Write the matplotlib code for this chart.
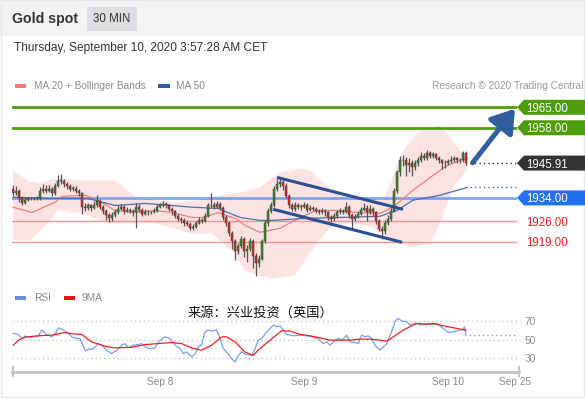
import numpy as np
import matplotlib
matplotlib.use("Agg")
import matplotlib.pyplot as plt
from matplotlib.patches import Polygon, Rectangle
from matplotlib.lines import Line2D
from matplotlib.transforms import blended_transform_factory

plt.rcParams['font.family'] = ['Liberation Sans', 'Noto Sans CJK SC', 'DejaVu Sans']

W, H = 585, 399

# ---------------- data ----------------
first_open = 1937.0
close = [1935.8,1936.5,1933.8,1932.4,1933.4,1933.8,1933.8,1933.8,1934.1,1936.5,
         1937.2,1936.5,1937.2,1935.5,1938.2,1939.9,1939.9,1938.6,1937.9,1937.2,
         1937.2,1936.5,1935.5,1931.0,1930.7,1931.4,1930.7,1931.7,1933.1,1931.0,
         1929.6,1928.3,1927.2,1928.3,1929.0,1930.3,1931.0,1929.6,1930.0,1929.6,
         1929.0,1931.0,1930.0,1928.6,1929.3,1929.0,1929.0,1929.6,1931.0,1931.4,
         1932.0,1931.4,1930.3,1929.6,1927.9,1926.9,1926.5,1925.5,1925.2,1923.8,
         1924.1,1925.5,1926.5,1926.2,1927.9,1931.4,1931.7,1931.0,1932.0,1930.7,
         1927.6,1925.5,1922.1,1919.3,1915.9,1917.6,1920.0,1915.9,1916.6,1919.3,
         1914.2,1911.8,1913.2,1919.3,1925.5,1929.6,1931.4,1937.2,1938.6,1939.3,
         1938.2,1934.8,1931.4,1930.3,1931.7,1931.0,1931.0,1931.7,1930.0,1930.7,
         1930.3,1929.6,1929.3,1929.6,1929.0,1927.6,1926.9,1927.9,1929.0,1929.6,
         1929.3,1931.0,1928.3,1926.9,1927.6,1928.6,1930.0,1930.7,1929.0,1930.3,
         1929.0,1926.2,1923.5,1922.8,1925.5,1926.9,1929.6,1936.5,1942.7,1946.8,
         1947.1,1945.1,1946.1,1944.4,1945.8,1946.8,1948.5,1947.8,1949.2,1948.5,
         1948.9,1947.8,1946.8,1946.1,1945.8,1946.5,1946.8,1947.5,1946.8,1946.8,
         1949.2,1945.91]
high = [1938.5,1938.0,1937.0,1934.5,1934.2,1934.3,1934.2,1934.2,1934.6,1937.8,
        1938.8,1938.5,1938.4,1937.8,1939.2,1942.0,1942.3,1940.5,1939.5,1938.6,
        1938.2,1937.9,1937.0,1936.0,1932.3,1932.4,1932.0,1932.8,1934.9,1933.5,
        1931.6,1930.3,1928.8,1929.0,1930.3,1931.4,1932.0,1931.5,1931.0,1930.6,
        1930.2,1932.2,1931.8,1930.5,1930.1,1929.8,1929.6,1930.4,1932.0,1932.4,
        1933.0,1932.6,1931.9,1930.8,1930.0,1928.5,1927.6,1927.0,1926.3,1925.8,
        1925.0,1926.2,1927.3,1927.2,1928.8,1932.4,1935.6,1932.6,1933.0,1932.7,
        1931.3,1928.2,1926.0,1922.8,1919.8,1918.6,1920.8,1920.5,1918.0,1920.2,
        1919.9,1915.0,1914.6,1920.0,1926.4,1930.4,1932.5,1938.0,1940.6,1940.8,
        1940.2,1939.0,1935.4,1932.4,1932.7,1932.3,1931.8,1932.6,1932.2,1931.6,
        1931.3,1930.8,1930.3,1930.4,1930.2,1929.6,1928.3,1928.8,1930.0,1930.5,
        1930.2,1932.6,1931.5,1928.8,1928.5,1929.4,1931.0,1932.3,1931.6,1931.4,
        1930.9,1929.5,1926.7,1924.3,1926.3,1928.0,1930.4,1937.3,1943.6,1948.2,
        1948.6,1948.0,1947.5,1946.8,1946.8,1948.0,1949.6,1949.4,1950.4,1950.2,
        1949.8,1949.5,1948.4,1947.4,1946.9,1947.4,1948.4,1948.3,1948.0,1947.8,
        1950.0,1949.9]
low = [1934.5,1935.0,1932.5,1931.5,1931.8,1933.0,1933.4,1933.4,1933.4,1933.2,
       1935.8,1935.6,1935.9,1934.6,1935.0,1937.6,1938.8,1937.8,1937.0,1936.5,
       1936.3,1935.8,1934.6,1928.4,1929.5,1930.0,1929.6,1930.1,1931.0,1930.2,
       1928.6,1926.4,1925.6,1926.0,1927.6,1928.5,1929.7,1928.6,1929.0,1928.7,
       1927.8,1923.6,1929.2,1927.9,1928.2,1928.3,1928.4,1928.7,1929.2,1930.4,
       1930.9,1930.6,1929.6,1928.2,1927.0,1926.0,1925.5,1924.5,1924.3,1922.9,
       1923.0,1923.6,1925.0,1925.4,1925.8,1927.5,1930.6,1930.2,1930.4,1929.8,
       1926.6,1924.4,1920.8,1916.6,1912.6,1914.8,1916.8,1913.6,1912.0,1915.8,
       1910.0,1907.3,1910.4,1912.6,1918.4,1924.5,1928.8,1930.8,1936.5,1937.6,
       1936.8,1933.8,1930.4,1929.4,1929.6,1930.2,1930.0,1930.4,1929.3,1929.4,
       1929.5,1928.8,1928.4,1928.6,1927.8,1926.6,1925.6,1926.2,1927.2,1928.5,
       1928.4,1928.8,1927.2,1923.8,1926.0,1927.0,1928.0,1929.4,1926.0,1928.4,
       1927.8,1925.0,1922.6,1919.8,1921.8,1924.8,1926.2,1929.0,1935.6,1941.6,
       1945.0,1941.4,1943.0,1941.6,1943.6,1945.0,1946.2,1946.8,1947.0,1947.8,
       1947.5,1947.0,1945.8,1944.0,1944.2,1945.2,1945.8,1946.2,1946.0,1945.9,
       1946.2,1945.2]

# Bollinger bands / moving averages read at key candles
bb_up_x = [0, 5, 8.3, 11.7, 16.3, 23, 34, 38.3, 41.7, 47.3, 55, 61.7, 69.7, 75.7,
           82.3, 89, 95.7, 99, 102.3, 105.7, 112.3, 118, 122.3, 124.0, 126.7, 129,
           132.3, 137.3, 142.3, 145.7, 149, 151.5]
bb_up_y = [1943.4, 1940.0, 1939.0, 1940.0, 1940.7, 1940.0, 1940.0, 1936.6, 1933.8,
           1933.2, 1932.5, 1933.2, 1934.9, 1935.9, 1937.6, 1942.7, 1944.1, 1943.4,
           1940.0, 1937.3, 1934.9, 1933.8, 1933.2, 1934.5, 1941.5, 1948.0, 1953.7,
           1957.8, 1958.8, 1954.7, 1950.3, 1947.2]
bb_lo_x = [0, 5.7, 11.7, 15, 23, 30.7, 36.3, 47.3, 59.7, 66.3, 73, 77.3, 81.3,
           86.7, 94, 98, 101.3, 105.7, 112.3, 120, 125.7, 133.3, 139, 142.3, 146.7,
           151.5]
bb_lo_y = [1919.5, 1919.5, 1925.3, 1929.7, 1928.7, 1925.6, 1925.3, 1925.3, 1921.8,
           1921.8, 1916.0, 1909.2, 1907.5, 1906.4, 1907.5, 1913.6, 1918.4, 1923.9,
           1925.6, 1923.9, 1919.5, 1917.1, 1918.4, 1925.3, 1937.6, 1943.8]
ma20_x = [0, 6.3, 14, 16.3, 24, 28.3, 34, 39.7, 47.3, 53, 59.7, 64, 68.3, 74, 77.3,
          82.3, 89, 95.7, 101.3, 109, 114.7, 122.3, 126.7, 133.3, 140, 144.7, 149,
          151.5]
ma20_y = [1930.8, 1929.0, 1932.5, 1934.5, 1934.9, 1933.2, 1929.7, 1929.0, 1929.7,
          1929.0, 1927.3, 1927.3, 1929.0, 1927.0, 1924.6, 1922.2, 1923.6, 1927.3,
          1929.7, 1929.7, 1929.0, 1928.7, 1930.8, 1936.6, 1941.7, 1945.1, 1946.8,
          1947.5]
ma50_x = [0, 11.7, 25, 34, 44, 53, 59.7, 68.3, 75.7, 82.3, 86.7, 98, 109, 122.3,
          128, 133.3, 142.3, 151.5]
ma50_y = [1934.2, 1933.8, 1933.8, 1931.4, 1932.1, 1931.4, 1930.8, 1930.4, 1927.3,
          1926.3, 1926.3, 1927.0, 1927.3, 1927.7, 1929.7, 1933.2, 1934.9, 1937.6]

# trend channel and projection arrow
chan_up_x, chan_up_y = [88, 130], [1941.0, 1930.1]
chan_lo_x, chan_lo_y = [86.7, 129.7], [1930.1, 1918.8]
arrow_from, arrow_to = (153.2, 1946.0), (167.3, 1964.5)

levels_green = [1965.00, 1958.00]
level_blue = 1934.00
levels_red = [1926.00, 1919.00]
last_price = 1945.91

# RSI panel
rsi_x = [0.1, 1.8, 2.9, 4.0, 6.2, 8.4, 9.6, 11.2, 12.9, 14.0, 15.1, 16.2, 17.9,
         19.6, 21.2, 22.3, 24.0, 25.1, 26.8, 28.4, 29.6, 31.2, 32.9, 34.6, 36.2,
         37.3, 38.4, 40.1, 41.8, 42.9, 44.0, 45.7, 47.3, 49.0, 50.7, 52.3, 54.0,
         55.7, 56.8, 57.9, 59.6, 60.7, 61.8, 62.9, 64.0, 65.1, 66.2, 67.9, 69.0,
         70.1, 71.2, 72.9, 74.0, 75.1, 76.2, 77.5, 79.6, 80.7, 81.8, 82.9, 84.6,
         85.7, 86.8, 87.9, 89.0, 90.1, 91.2, 93.4, 95.7, 97.9, 100.1, 102.3, 103.4,
         104.6, 105.7, 106.8, 108.4, 109.6, 111.2, 112.3, 114.0, 115.1, 116.2,
         117.3, 118.4, 119.6, 120.7, 122.3, 124.6, 126.2, 127.3, 128.4, 129.6,
         131.2, 132.3, 134.0, 136.2, 137.9, 139.6, 141.2, 143.4, 145.1, 146.8,
         148.8, 150.0, 150.5, 151.0]
rsi_y = [56.5, 55.5, 51.1, 53.6, 52.5, 54.0, 60.2, 55.5, 52.9, 55.5, 62.7, 61.3,
         58.4, 52.9, 51.1, 51.1, 38.4, 39.1, 40.2, 45.6, 43.8, 38.4, 34.7, 38.4,
         43.8, 45.6, 40.9, 43.8, 44.5, 45.6, 42.0, 40.2, 40.9, 49.3, 52.9, 51.1,
         43.8, 40.2, 34.7, 36.5, 31.1, 34.7, 42.0, 44.5, 58.4, 60.2, 59.1, 60.2,
         51.1, 40.2, 36.5, 29.3, 25.6, 32.9, 36.5, 34.0, 32.9, 40.2, 49.3, 51.1,
         58.4, 62.0, 65.6, 63.8, 64.9, 60.2, 55.5, 54.0, 54.7, 54.0, 52.9, 49.3,
         45.6, 47.5, 43.8, 47.5, 51.1, 49.3, 54.7, 47.5, 46.7, 45.6, 54.7, 52.9,
         54.0, 51.1, 43.8, 38.4, 45.6, 58.4, 69.3, 72.9, 70.0, 69.3, 65.6, 67.5,
         65.6, 67.5, 65.6, 67.5, 62.0, 57.6, 58.4, 60.2, 60.2, 63.8, 54.7]
ma9_x = [0.1, 1.8, 4.0, 8.4, 12.9, 17.3, 19.6, 22.9, 26.2, 30.7, 34.0, 39.6, 44.0,
         48.4, 52.9, 56.2, 59.6, 62.9, 66.2, 69.6, 71.2, 74.0, 77.3, 80.1, 82.3,
         85.7, 89.6, 92.3, 95.7, 99.0, 102.3, 105.7, 109.0, 112.3, 115.7, 119.0,
         122.3, 124.6, 126.8, 130.1, 134.6, 137.9, 140.1, 142.3, 146.8, 151.0]
ma9_y = [43.8, 49.3, 52.5, 54.0, 54.7, 57.6, 56.2, 55.5, 47.5, 42.7, 40.9, 41.6,
         44.5, 45.6, 46.7, 45.6, 40.9, 38.4, 43.8, 52.9, 52.9, 47.5, 36.5, 32.9,
         40.2, 49.3, 59.5, 59.1, 55.5, 54.0, 51.8, 49.3, 49.3, 49.3, 50.4, 50.4,
         49.3, 48.2, 52.9, 60.2, 67.5, 66.4, 67.5, 65.6, 62.7, 60.2]
rsi_levels = [70, 50, 30]

date_ticks = [49, 97, 145, 167.3]
date_labels = ["Sep 8", "Sep 9", "Sep 10", "Sep 25"]

# ---------------- figure ----------------
fig = plt.figure(figsize=(W / 100, H / 100), dpi=100)
fig.patch.set_facecolor('white')


def fx(px):
    return px / W


def fy(py):
    return 1 - py / H


# header band + outer border
fig.patches.append(Rectangle((0, fy(36)), 1, 36 / H, transform=fig.transFigure,
                             facecolor='#f2f3f5', edgecolor='none', zorder=0))
fig.patches.append(Rectangle((fx(0.5), fy(397)), fx(583), 397 / H, transform=fig.transFigure,
                             facecolor='none', edgecolor='#e6e7ea', lw=1, zorder=0))
fig.patches.append(Rectangle((fx(87), fy(31)), fx(50), 24 / H, transform=fig.transFigure,
                             facecolor='#dcdee2', edgecolor='none', zorder=1))
fig.text(fx(12), fy(19), "Gold spot", fontsize=10.2, fontweight='bold', color='#333333',
         va='center', ha='left')
fig.text(fx(112), fy(19), "30 MIN", fontsize=8.3, color='#333333', va='center', ha='center')
fig.text(fx(14), fy(48), "Thursday, September 10, 2020 3:57:28 AM CET", fontsize=8.6,
         color='#333333', va='center', ha='left')

# legends
fig.patches.append(Rectangle((fx(15), fy(88)), fx(11), 4 / H, transform=fig.transFigure,
                             facecolor='#ff7b7b', edgecolor='none'))
fig.text(fx(34), fy(86), "MA 20 + Bollinger Bands", fontsize=7.3, color='#8a8a8a', va='center')
fig.patches.append(Rectangle((fx(158), fy(88)), fx(12), 4 / H, transform=fig.transFigure,
                             facecolor='#2f5ea8', edgecolor='none'))
fig.text(fx(176), fy(86), "MA 50", fontsize=7.3, color='#8a8a8a', va='center')
fig.text(fx(583), fy(86), "Research © 2020 Trading Central", fontsize=7.3, color='#9a9a9a',
         va='center', ha='right')

fig.patches.append(Rectangle((fx(15), fy(300)), fx(11), 4 / H, transform=fig.transFigure,
                             facecolor='#6a8ee8', edgecolor='none'))
fig.text(fx(34), fy(298), "RSI", fontsize=7.3, color='#8a8a8a', va='center')
fig.patches.append(Rectangle((fx(64), fy(300)), fx(11), 4 / H, transform=fig.transFigure,
                             facecolor='#f01010', edgecolor='none'))
fig.text(fx(82), fy(298), "9MA", fontsize=7.3, color='#8a8a8a', va='center')
fig.text(fx(260), fy(313), "来源：兴业投资（英国）", fontsize=9.5, color='#111111',
         va='center', ha='center', family=['Noto Sans CJK SC', 'DejaVu Sans'])

# ---------------- main price axes ----------------
top_px, bot_px = 95, 285
px_per = 2.922
ax = fig.add_axes([fx(12), fy(bot_px), fx(505), (bot_px - top_px) / H])
ax.set_xlim((12 - 13) / 3, (517 - 13) / 3)
ax.set_ylim(1965 - (bot_px - 107.3) / px_per, 1965 + (107.3 - top_px) / px_per)
ax.axis('off')

# bollinger band
ax.fill(np.concatenate([bb_up_x, bb_lo_x[::-1]]), np.concatenate([bb_up_y, bb_lo_y[::-1]]),
        color='#fde2e2', lw=0, zorder=1)

for lv in levels_green:
    ax.axhline(lv, color='#4d9e0c', lw=2, zorder=2)
ax.axhline(level_blue, color='#6f9cf2', lw=2, zorder=2, alpha=0.9)
for lv in levels_red:
    ax.axhline(lv, color='#f49494', lw=1, zorder=2)

ax.plot(ma20_x, ma20_y, color='#f27c7c', lw=0.9, zorder=3)
ax.plot(ma50_x, ma50_y, color='#4a6db0', lw=0.9, zorder=3)

# candles
c = np.array(close)
o = np.array([first_open] + close[:-1])
hi = np.array(high)
lo = np.array(low)
idx = np.arange(len(c))
bull = c >= o
ax.vlines(idx, lo, hi, color='#555555', lw=0.9, zorder=4)
body_b = np.minimum(o, c)
body_h = np.maximum(np.abs(c - o), 0.3)
ax.bar(idx[bull], body_h[bull], bottom=body_b[bull], width=0.8, color='#3b8a2b',
       edgecolor='#333333', lw=0.3, zorder=5)
ax.bar(idx[~bull], body_h[~bull], bottom=body_b[~bull], width=0.8, color='#d42828',
       edgecolor='#333333', lw=0.3, zorder=5)

# dotted projections
last_x = idx[-1]
ax.plot([last_x + 1.3, 168.0], [last_price, last_price], color='#333333', lw=1,
        ls=(0, (1, 2.2)), zorder=3)
ax.plot([ma50_x[-1] + 0.8, 168.0], [ma50_y[-1], ma50_y[-1]], color='#4a6db0', lw=1,
        ls=(0, (1, 2.2)), zorder=3)

# channel
ax.plot(chan_up_x, chan_up_y, color='#2b4f95', lw=2.2, zorder=6, solid_capstyle='butt')
ax.plot(chan_lo_x, chan_lo_y, color='#2b4f95', lw=2.2, zorder=6, solid_capstyle='butt')

# arrow
ax.annotate('', xy=arrow_to, xytext=arrow_from,
            arrowprops=dict(arrowstyle='-|>,head_length=0.9,head_width=0.6', lw=3.6,
                            color='#2f5f9e', shrinkA=0, shrinkB=0, mutation_scale=15),
            zorder=7, annotation_clip=False)

# right-hand tags
bt = blended_transform_factory(fig.transFigure, ax.transData)
half = 7.5 / px_per


def tag(price, fc, text):
    pts = [(fx(517), price), (fx(524), price + half), (fx(585), price + half),
           (fx(585), price - half), (fx(524), price - half)]
    fig.patches.append(Polygon(pts, closed=True, transform=bt, facecolor=fc,
                               edgecolor='none', zorder=5))
    fig.text(fx(526), 0, text, transform=bt, fontsize=8.3, color='white', ha='left',
             va='center_baseline', zorder=6).set_y(price)


for lv in levels_green:
    tag(lv, '#4d9e0c', f"{lv:.2f}")
tag(last_price, '#333333', f"{last_price:.2f}")
tag(level_blue, '#2172f0', f"{level_blue:.2f}")
for lv in levels_red:
    t = fig.text(fx(526), 0, f"{lv:.2f}", transform=bt, fontsize=8.3, color='#e8201a',
                 ha='left', va='center_baseline')
    t.set_y(lv)

# ---------------- RSI axes ----------------
r_top, r_bot = 305, 370
r_px = (358 - 321) / 40.0
rax = fig.add_axes([fx(12), fy(r_bot), fx(505), (r_bot - r_top) / H])
rax.set_xlim((12 - 13) / 3, (517 - 13) / 3)
rax.set_ylim(30 - (r_bot - 358) / r_px, 70 + (321 - r_top) / r_px)
rax.axis('off')
for lv in rsi_levels:
    rax.plot([-0.33, 169.0], [lv, lv], color='#b8b8b8', lw=0.9, ls=(0, (1, 2.5)),
             zorder=1, clip_on=False)
    fig.text(fx(530), 0, str(lv), transform=blended_transform_factory(fig.transFigure, rax.transData),
             fontsize=7.3, color='#8a8a8a', ha='center', va='center_baseline').set_y(lv)
rax.plot(rsi_x, rsi_y, color='#7b9bec', lw=0.9, zorder=3)
rax.plot(ma9_x, ma9_y, color='#f02020', lw=0.9, zorder=4)
rax.plot([rsi_x[-1] + 1, 167.3], [rsi_y[-1], rsi_y[-1]], color='#7b9bec', lw=1,
         ls=(0, (1, 2.2)), zorder=3)

# bottom date axis
fig.add_artist(Line2D([fx(12), fx(519)], [fy(372), fy(372)], color='#c4c4c4', lw=2))
fig.add_artist(Line2D([fx(12.5), fx(12.5)], [fy(367), fy(376)], color='#c4c4c4', lw=1.5))
fig.add_artist(Line2D([fx(518.5), fx(518.5)], [fy(367), fy(376)], color='#c4c4c4', lw=1.5))
for pos, lab in zip(date_ticks, date_labels):
    xp = 13 + 3 * pos
    fig.text(fx(xp), fy(382), lab, fontsize=7.3, color='#8a8a8a', ha='center', va='center')

fig.savefig("out.png", dpi=100, facecolor='white')
